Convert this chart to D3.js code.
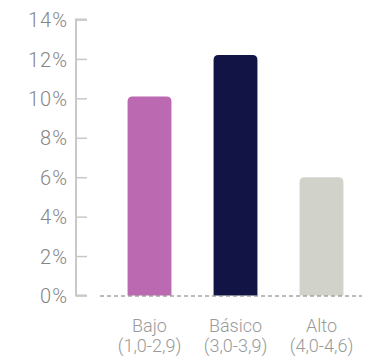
<!DOCTYPE html>
<html>
<head>
<meta charset="utf-8">
<script src="https://cdn.jsdelivr.net/npm/d3@7"></script>
<style>
  body { margin: 0; background: #fff; }
  svg text { font-family: Roboto, "Noto Sans", sans-serif; font-weight: 300; }
</style>
</head>
<body>
<div id="chart"></div>
<script>
const categories = ["Bajo", "Básico", "Alto"];
const ranges = ["(1,0-2,9)", "(3,0-3,9)", "(4,0-4,6)"];
const values = [10.1, 12.2, 6.0];
const colors = ["#bb69b0", "#131446", "#d1d2c9"];
const yTicks = [0, 2, 4, 6, 8, 10, 12, 14];

const width = 375, height = 361;

const svg = d3.select("#chart").append("svg")
  .attr("width", width)
  .attr("height", height);

const x = d3.scaleBand()
  .domain(categories)
  .range([106.5, 364.5])
  .paddingInner(0.49)
  .paddingOuter(0.245);

const y = d3.scaleLinear()
  .domain([0, 14])
  .range([295.5, 19.5]);

// y axis
const yAxis = svg.append("g")
  .attr("transform", "translate(76,0)")
  .call(d3.axisRight(y).tickValues(yTicks).tickSize(11).tickFormat(d => d + "%"));
yAxis.select(".domain")
  .attr("d", `M11,${y(14)}H0V${y(0)}H11`)
  .attr("stroke", "#c8c8c8")
  .attr("stroke-width", 2);
yAxis.selectAll(".tick line")
  .attr("stroke", "#c8c8c8")
  .attr("stroke-width", 1.5);
yAxis.selectAll(".tick text")
  .attr("x", -8)
  .attr("dy", "0.36em")
  .attr("text-anchor", "end")
  .attr("fill", "#858585")
  .style("font-size", "20px")
  .style("letter-spacing", "1px");

// bars with rounded tops
function barPath(x0, w, yTop, yBot, r) {
  return `M${x0},${yBot}V${yTop + r}Q${x0},${yTop} ${x0 + r},${yTop}` +
    `H${x0 + w - r}Q${x0 + w},${yTop} ${x0 + w},${yTop + r}V${yBot}Z`;
}

svg.append("g").selectAll("path")
  .data(values)
  .join("path")
  .attr("d", (d, i) => barPath(x(categories[i]), x.bandwidth(), y(d), y(0), 5))
  .attr("fill", (d, i) => colors[i]);

// dashed baseline
svg.append("line")
  .attr("x1", 100).attr("x2", 362)
  .attr("y1", y(0) + 0.5).attr("y2", y(0) + 0.5)
  .attr("stroke", "#777")
  .attr("stroke-width", 1)
  .attr("stroke-dasharray", "4,3");

// x labels
const xl = svg.append("g").selectAll("text")
  .data(categories)
  .join("text")
  .attr("x", d => x(d) + x.bandwidth() / 2)
  .attr("y", 332)
  .attr("text-anchor", "middle")
  .attr("fill", "#9a9a9a")
  .style("font-size", "18px");
xl.append("tspan")
  .text(d => d);
xl.append("tspan")
  .attr("x", d => x(d) + x.bandwidth() / 2)
  .attr("dy", 20)
  .text((d, i) => ranges[i]);
</script>
</body>
</html>
